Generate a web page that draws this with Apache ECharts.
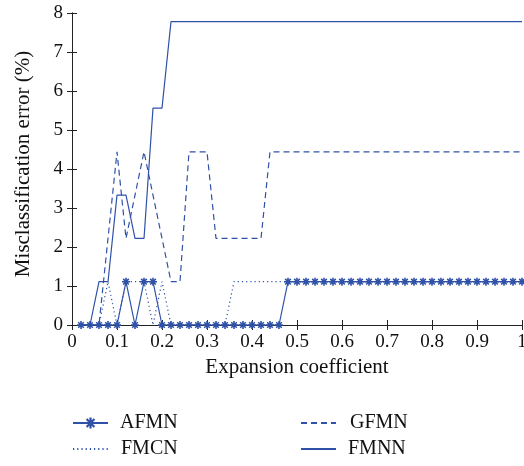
<!DOCTYPE html>
<html>
<head>
<meta charset="utf-8">
<script src="https://cdn.jsdelivr.net/npm/echarts@6/dist/echarts.min.js"></script>
<style>
  html, body { margin: 0; padding: 0; background: #fff; }
  #chart { width: 524px; height: 466px; }
</style>
</head>
<body>
<div id="chart"></div>
<script>
// expansion coefficient values (x)
var coef = [0.02, 0.04, 0.06, 0.08, 0.10, 0.12, 0.14, 0.16, 0.18, 0.20,
  0.22, 0.24, 0.26, 0.28, 0.30, 0.32, 0.34, 0.36, 0.38, 0.40,
  0.42, 0.44, 0.46, 0.48, 0.50, 0.52, 0.54, 0.56, 0.58, 0.60,
  0.62, 0.64, 0.66, 0.68, 0.70, 0.72, 0.74, 0.76, 0.78, 0.80,
  0.82, 0.84, 0.86, 0.88, 0.90, 0.92, 0.94, 0.96, 0.98, 1.00]

// misclassification error (%)
var afmn = [0, 0, 0, 0, 0, 1.11, 0, 1.11, 1.11, 0,
  0, 0, 0, 0, 0, 0, 0, 0, 0, 0,
  0, 0, 0, 1.11, 1.11, 1.11, 1.11, 1.11, 1.11, 1.11,
  1.11, 1.11, 1.11, 1.11, 1.11, 1.11, 1.11, 1.11, 1.11, 1.11,
  1.11, 1.11, 1.11, 1.11, 1.11, 1.11, 1.11, 1.11, 1.11, 1.11]
var fmcn = [0, 0, 0, 1.11, 0, 1.11, 1.11, 1.11, 0, 1.11,
  0, 0, 0, 0, 0, 0, 0, 1.11, 1.11, 1.11,
  1.11, 1.11, 1.11, 1.11, 1.11, 1.11, 1.11, 1.11, 1.11, 1.11,
  1.11, 1.11, 1.11, 1.11, 1.11, 1.11, 1.11, 1.11, 1.11, 1.11,
  1.11, 1.11, 1.11, 1.11, 1.11, 1.11, 1.11, 1.11, 1.11, 1.11]
var gfmn = [0, 0, 0, 2.22, 4.44, 2.22, 3.33, 4.44, 3.33, 2.22,
  1.11, 1.11, 4.44, 4.44, 4.44, 2.22, 2.22, 2.22, 2.22, 2.22,
  2.22, 4.44, 4.44, 4.44, 4.44, 4.44, 4.44, 4.44, 4.44, 4.44,
  4.44, 4.44, 4.44, 4.44, 4.44, 4.44, 4.44, 4.44, 4.44, 4.44,
  4.44, 4.44, 4.44, 4.44, 4.44, 4.44, 4.44, 4.44, 4.44, 4.44]
var fmnn = [0, 0, 1.11, 1.11, 3.33, 3.33, 2.22, 2.22, 5.56, 5.56,
  7.78, 7.78, 7.78, 7.78, 7.78, 7.78, 7.78, 7.78, 7.78, 7.78,
  7.78, 7.78, 7.78, 7.78, 7.78, 7.78, 7.78, 7.78, 7.78, 7.78,
  7.78, 7.78, 7.78, 7.78, 7.78, 7.78, 7.78, 7.78, 7.78, 7.78,
  7.78, 7.78, 7.78, 7.78, 7.78, 7.78, 7.78, 7.78, 7.78, 7.78]

var blue = '#2f51a8'
var font = 'Liberation Serif'
var star = 'path://M-1,-5L1,-5L1,5L-1,5Z M-5,-1L5,-1L5,1L-5,1Z ' +
  'M-2.8,-4.2L4.2,2.8L2.8,4.2L-4.2,-2.8Z M2.8,-4.2L4.2,-2.8L-2.8,4.2L-4.2,2.8Z'

function pairs(ys) {
  return coef.map(function(x, i) { return [x, ys[i]] })
}

function line(name, ys, type, extra) {
  var s = {
    name: name,
    type: 'line',
    data: pairs(ys),
    symbol: 'none',
    itemStyle: { color: blue },
    lineStyle: { color: blue, width: 1.2, type: type },
    z: 2
  }
  return Object.assign(s, extra || {})
}

// one legend per entry so the 2x2 layout matches
function legendItem(name, left, top, hideSymbol, gap) {
  var item = { name: name }
  if (hideSymbol) item.itemStyle = { opacity: 0 }
  return {
    data: [item],
    left: left, top: top, padding: 0,
    itemWidth: 35, itemHeight: 14,
    textStyle: { fontFamily: font, fontSize: 20, color: '#111', lineHeight: 20, padding: [0, 0, 0, gap] }
  }
}

var axisLine = { show: true, lineStyle: { color: '#222', width: 1 } }
var tick = { inside: true, length: 5, lineStyle: { color: '#222' } }
var label = { color: '#111', fontFamily: font, fontSize: 19 }
var nameStyle = { fontFamily: font, fontSize: 21, color: '#111' }

var chart = echarts.init(document.getElementById('chart'))
chart.setOption({
  animation: false,
  grid: { left: 72, right: 2, top: 13, bottom: 141, outerBoundsMode: 'none', containLabel: false },
  legend: [
    legendItem('AFMN', 72, 413, false, 7),
    legendItem('FMCN', 72, 439, true, 8),
    legendItem('GFMN', 300, 413, true, 9),
    legendItem('FMNN', 300, 439, true, 7)
  ],
  xAxis: [
    {
      type: 'value', min: 0, max: 1, interval: 0.1,
      name: 'Expansion coefficient', nameLocation: 'middle', nameGap: 32,
      nameTextStyle: nameStyle,
      axisLine: axisLine, axisTick: tick,
      axisLabel: Object.assign({ margin: 8 }, label),
      splitLine: { show: false }
    },
    {
      type: 'value', min: 0, max: 1, interval: 0.1, position: 'top',
      axisLine: axisLine, axisTick: tick, axisLabel: { show: false },
      splitLine: { show: false }
    }
  ],
  yAxis: [
    {
      type: 'value', min: 0, max: 8, interval: 1,
      name: 'Misclassification error (%)', nameLocation: 'middle', nameGap: 38,
      nameTextStyle: Object.assign({ padding: [0, 0, 0, 10] }, nameStyle),
      axisLine: axisLine, axisTick: tick,
      axisLabel: Object.assign({ margin: 9 }, label),
      splitLine: { show: false }
    },
    {
      type: 'value', min: 0, max: 8, interval: 1, position: 'right',
      axisLine: axisLine, axisTick: tick,
      axisLabel: { show: false }, splitLine: { show: false }
    }
  ],
  series: [
    line('FMNN', fmnn, 'solid'),
    line('GFMN', gfmn, [6, 4]),
    line('FMCN', fmcn, [1.2, 3]),
    line('AFMN', afmn, 'solid', { symbol: star, symbolSize: 8, showSymbol: true, z: 3 })
  ]
})
</script>
</body>
</html>
